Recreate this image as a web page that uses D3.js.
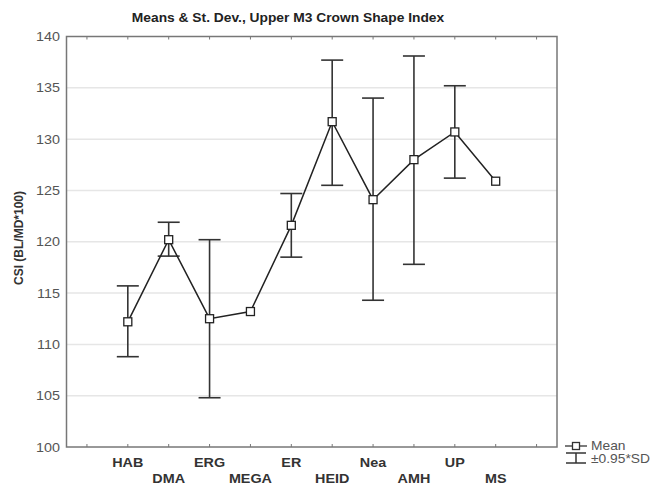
<!DOCTYPE html>
<html><head><meta charset="utf-8">
<script src="https://cdn.jsdelivr.net/npm/d3@7"></script>
<style>body{margin:0;background:#fff;} text{font-family:Arial,"Liberation Sans",sans-serif;}</style>
</head><body>
<svg id="chart" width="653" height="486"></svg>
<script>
const categories = ["HAB","DMA","ERG","MEGA","ER","HEID","Nea","AMH","UP","MS"];
const means = [112.2,120.2,112.5,113.2,121.6,131.7,124.1,128.0,130.7,125.9];
const upper = [115.7,121.9,120.2,null,124.7,137.7,134.0,138.1,135.2,null];
const lower = [108.8,118.6,104.8,null,118.5,125.5,114.3,117.8,126.2,null];
const yTicks = [100,105,110,115,120,125,130,135,140];
const title = "Means & St. Dev., Upper M3 Crown Shape Index";
const yLabel = "CSI (BL/MD*100)";
const legendLabels = ["Mean","±0.95*SD"];

const SX = 1.15; // horizontal stretch of text as in the reference
const svg = d3.select("#chart");
const L = 66.5, R = 557, T = 36.5, B = 447;
const slots = ["_s0", ...categories, "_s1"];
const x = d3.scaleBand().domain(slots).range([L, R]);
const cx = c => x(c) + x.bandwidth()/2;
const y = d3.scaleLinear().domain([100,140]).range([B, T]);

function stext(g, px, py) {
  return g.append("text").attr("transform", `translate(${px},${py}) scale(${SX},1)`);
}

// grid
svg.append("g").selectAll("line").data(yTicks.slice(1,-1)).join("line")
  .attr("x1", L).attr("x2", R).attr("y1", d=>y(d)).attr("y2", d=>y(d))
  .attr("stroke", "#e6e6e6").attr("stroke-width", 1.5);

// y tick labels
const gy = svg.append("g");
yTicks.forEach(v => {
  stext(gy, 60, y(v) + 4.5).attr("text-anchor","end").attr("font-size", 12.5)
    .attr("fill", "#555").text(v);
});

// x tick marks (bottom and top, inward)
const bx = d3.axisBottom(x).tickSize(-3).tickFormat("");
const gb = svg.append("g").attr("transform", `translate(0,${B})`).call(bx);
gb.select(".domain").remove();
gb.selectAll("line").attr("stroke", "#777");
const tx = d3.axisTop(x).tickSize(-3).tickFormat("");
const gt = svg.append("g").attr("transform", `translate(0,${T})`).call(tx);
gt.select(".domain").remove();
gt.selectAll("line").attr("stroke", "#777");

// frame
svg.append("rect").attr("x", L).attr("y", T).attr("width", R-L).attr("height", B-T)
  .attr("fill", "none").attr("stroke", "#777").attr("stroke-width", 1.5);

// x labels
const gxl = svg.append("g");
categories.forEach((c,i) => {
  stext(gxl, cx(c), i%2===0 ? 466.5 : 483).attr("text-anchor","middle").attr("font-size", 12.5)
    .attr("font-weight","bold").attr("fill", "#333").text(c);
});

// error bars
const eb = categories.map((c,i)=>({c, u: upper[i], l: lower[i]})).filter(d=>d.u!=null);
const ge = svg.append("g").attr("stroke", "#333").attr("stroke-width", 1.6);
ge.selectAll(".v").data(eb).join("line")
  .attr("x1", d=>cx(d.c)).attr("x2", d=>cx(d.c)).attr("y1", d=>y(d.u)).attr("y2", d=>y(d.l));
ge.selectAll(".t").data(eb).join("line")
  .attr("x1", d=>cx(d.c)-11).attr("x2", d=>cx(d.c)+11).attr("y1", d=>y(d.u)).attr("y2", d=>y(d.u));
ge.selectAll(".b").data(eb).join("line")
  .attr("x1", d=>cx(d.c)-11).attr("x2", d=>cx(d.c)+11).attr("y1", d=>y(d.l)).attr("y2", d=>y(d.l));

// mean line
const pts = categories.map((c,i)=>[cx(c), y(means[i])]);
svg.append("path").attr("d", d3.line()(pts)).attr("fill","none").attr("stroke","#222").attr("stroke-width",1.5);
svg.append("g").selectAll("rect").data(pts).join("rect")
  .attr("x", d=>d[0]-4).attr("y", d=>d[1]-4).attr("width", 8).attr("height", 8)
  .attr("fill","#fff").attr("stroke","#222").attr("stroke-width",1.3);

// title
stext(svg, 288, 22).attr("text-anchor","middle")
  .attr("font-size", 12).attr("font-weight","bold").attr("fill","#222").text(title);

// y label
svg.append("text").attr("transform", "translate(23,238) rotate(-90)").attr("text-anchor","middle")
  .attr("font-size", 12).attr("font-weight","bold").attr("fill","#333").text(yLabel);

// legend
const lg = svg.append("g");
lg.append("line").attr("x1",565).attr("x2",587).attr("y1",446).attr("y2",446).attr("stroke","#333").attr("stroke-width",1.3);
lg.append("rect").attr("x",572.5).attr("y",442.5).attr("width",7).attr("height",7).attr("fill","#fff").attr("stroke","#333").attr("stroke-width",1.3);
stext(lg, 591, 450).attr("font-size",12).attr("fill","#555").text(legendLabels[0]);
lg.append("line").attr("x1",566).attr("x2",586).attr("y1",453).attr("y2",453).attr("stroke","#333").attr("stroke-width",1.5);
lg.append("line").attr("x1",566).attr("x2",586).attr("y1",463).attr("y2",463).attr("stroke","#333").attr("stroke-width",1.5);
lg.append("line").attr("x1",576).attr("x2",576).attr("y1",453).attr("y2",463).attr("stroke","#333").attr("stroke-width",1.5);
stext(lg, 591, 463).attr("font-size",12).attr("fill","#555").text(legendLabels[1]);
</script>
</body></html>
